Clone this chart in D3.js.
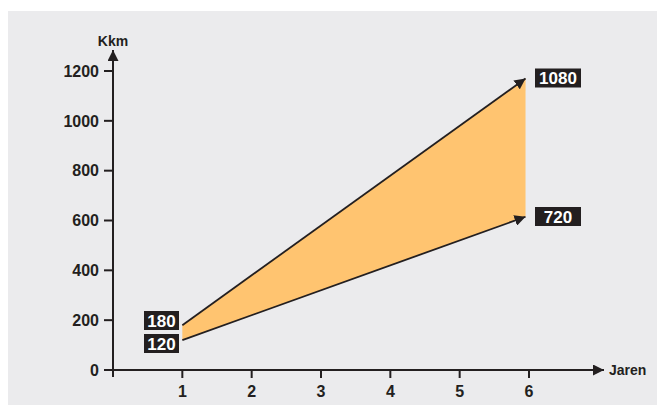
<!DOCTYPE html>
<html>
<head>
<meta charset="utf-8">
<script src="https://cdn.jsdelivr.net/npm/d3@7"></script>
<style>
  body { margin: 0; background: #fff; }
  svg { display: block; font-family: "Liberation Sans", Arial, sans-serif; }
</style>
</head>
<body>
<div id="chart"></div>
<script>
// chart data
const years = [1, 5.95];
const upper = [180, 1170];
const lower = [120, 615];
const startLabels = ["180", "120"];
const endLabels = ["1080", "720"];
const yTicks = [0, 200, 400, 600, 800, 1000, 1200];
const xTicks = [1, 2, 3, 4, 5, 6];

(function () {
  const W = 659, H = 405;
  const svg = d3.select("#chart").append("svg")
    .attr("width", W)
    .attr("height", H);

  // grey panel
  svg.append("rect")
    .attr("x", 8).attr("y", 11)
    .attr("width", 649).attr("height", 394)
    .attr("fill", "#ebebed");

  const x = d3.scaleLinear().domain([0, 6]).range([113, 529]);
  const y = d3.scaleLinear().domain([0, 1200]).range([370, 71]);
  const ink = "#231f20";

  const defs = svg.append("defs");
  defs.append("marker")
    .attr("id", "arrow")
    .attr("viewBox", "0 0 10 10")
    .attr("refX", 10).attr("refY", 5)
    .attr("markerWidth", 11).attr("markerHeight", 11)
    .attr("markerUnits", "userSpaceOnUse")
    .attr("orient", "auto")
    .append("path")
    .attr("d", "M0,0 L10,5 L0,10 Z")
    .attr("fill", ink);

  // band between the two lines
  const pts = years.map((d, i) => [x(d), y(upper[i])])
    .concat(years.slice().reverse().map((d, i) => [x(d), y(lower[years.length - 1 - i])]));
  svg.append("path")
    .attr("d", "M" + pts.join("L") + "Z")
    .attr("fill", "#ffc470");

  const line = d3.line().x((d, i) => x(years[i])).y(d => y(d));
  [upper, lower].forEach(s => {
    svg.append("path")
      .attr("d", line(s))
      .attr("fill", "none")
      .attr("stroke", ink)
      .attr("stroke-width", 1.8)
      .attr("marker-end", "url(#arrow)");
  });

  // axes
  svg.append("line")
    .attr("x1", x(0)).attr("y1", y(0) + 7)
    .attr("x2", x(0)).attr("y2", 50)
    .attr("stroke", ink).attr("stroke-width", 2)
    .attr("marker-end", "url(#arrow)");
  svg.append("line")
    .attr("x1", x(0) - 8).attr("y1", y(0))
    .attr("x2", 604).attr("y2", y(0))
    .attr("stroke", ink).attr("stroke-width", 2)
    .attr("marker-end", "url(#arrow)");

  const yt = svg.append("g").selectAll("g").data(yTicks).join("g")
    .attr("transform", d => `translate(${x(0)},${y(d)})`);
  yt.append("line").attr("x1", -9).attr("x2", 0)
    .attr("stroke", ink).attr("stroke-width", 2);
  yt.append("text")
    .attr("x", -14).attr("dy", "0.36em")
    .attr("text-anchor", "end")
    .attr("font-size", 16).attr("font-weight", 700)
    .attr("fill", ink)
    .text(d => d);

  const xt = svg.append("g").selectAll("g").data(xTicks).join("g")
    .attr("transform", d => `translate(${x(d)},${y(0)})`);
  xt.append("line").attr("y1", 0).attr("y2", 8)
    .attr("stroke", ink).attr("stroke-width", 2);
  xt.append("text")
    .attr("y", 27)
    .attr("text-anchor", "middle")
    .attr("font-size", 16).attr("font-weight", 700)
    .attr("fill", ink)
    .text(d => d);

  svg.append("text")
    .attr("x", x(0)).attr("y", 46)
    .attr("text-anchor", "middle")
    .attr("font-size", 14).attr("font-weight", 700)
    .attr("fill", ink)
    .text("Kkm");
  svg.append("text")
    .attr("x", 609).attr("y", 375)
    .attr("font-size", 14).attr("font-weight", 700)
    .attr("fill", ink)
    .text("Jaren");

  // value tags
  function tag(cx, cy, w, txt) {
    svg.append("rect")
      .attr("x", cx - w / 2).attr("y", cy - 9.5)
      .attr("width", w).attr("height", 19)
      .attr("fill", ink);
    svg.append("text")
      .attr("x", cx).attr("y", cy).attr("dy", "0.37em")
      .attr("text-anchor", "middle")
      .attr("font-size", 17).attr("font-weight", 700)
      .attr("fill", "#fff")
      .text(txt);
  }
  tag(161.5, 320.5, 35, startLabels[0]);
  tag(161.5, 343.5, 35, startLabels[1]);
  tag(558, 78, 46, endLabels[0]);
  tag(558, 216.5, 46, endLabels[1]);
})();
</script>
</body>
</html>
